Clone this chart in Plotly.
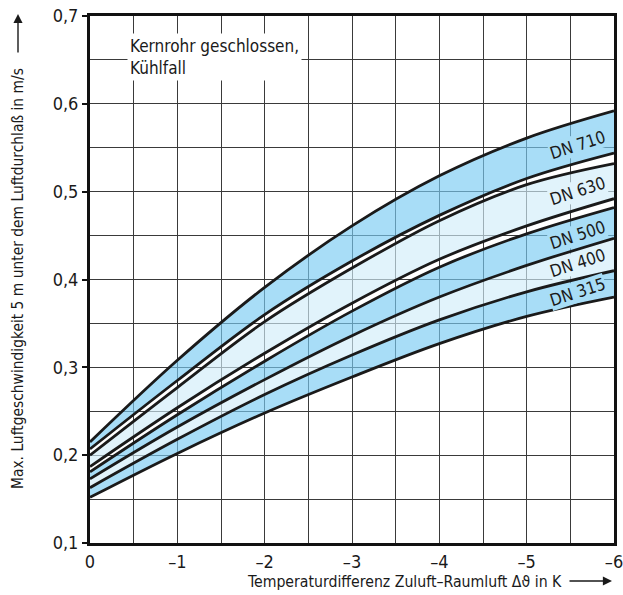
import plotly.graph_objects as go

# Temperature difference supply air - room air (K)
dt = [0, -1, -2, -3, -4, -5, -6]

# Boundary curves of the nominal-size bands (max. air velocity, m/s)
dn710_upper = [0.215, 0.308, 0.391, 0.461, 0.518, 0.561, 0.592]
dn710_lower = [0.207, 0.285, 0.360, 0.421, 0.473, 0.515, 0.544]
dn630_upper = [0.200, 0.277, 0.352, 0.413, 0.467, 0.508, 0.532]
dn630_lower = [0.187, 0.254, 0.316, 0.373, 0.423, 0.461, 0.492]
dn500_upper = [0.181, 0.246, 0.307, 0.364, 0.414, 0.452, 0.482]
dn500_lower = [0.173, 0.232, 0.286, 0.336, 0.380, 0.416, 0.447]
dn400_lower = [0.163, 0.218, 0.269, 0.314, 0.354, 0.386, 0.410]
dn315_lower = [0.152, 0.202, 0.248, 0.289, 0.327, 0.358, 0.380]

label_names = ["DN 710", "DN 630", "DN 500", "DN 400", "DN 315"]
label_x = -5.58
label_y = [0.553, 0.501, 0.451, 0.419, 0.386]

x_ticks = [0, -1, -2, -3, -4, -5, -6]
x_ticktext = ["0", "\u20131", "\u20132", "\u20133", "\u20134", "\u20135", "\u20136"]

FONT = "DejaVu Sans Condensed, Liberation Sans, sans-serif"
BLUE = "rgba(122,203,242,0.65)"
LIGHT = "rgba(209,237,249,0.65)"
BLUE_SOLID = "#a8ddf6"
LIGHT_SOLID = "#e1f3fb"

bands = [
    (dn710_lower, dn710_upper, BLUE),
    (dn630_lower, dn630_upper, LIGHT),
    (dn500_lower, dn500_upper, BLUE),
    (dn400_lower, dn500_lower, LIGHT),
    (dn315_lower, dn400_lower, BLUE),
]

fig = go.Figure()

for lower, upper, color in bands:
    fig.add_trace(go.Scatter(x=dt, y=lower, mode="lines",
                             line=dict(width=0, shape="spline"),
                             hoverinfo="skip", showlegend=False))
    fig.add_trace(go.Scatter(x=dt, y=upper, mode="lines", fill="tonexty",
                             fillcolor=color, line=dict(width=0, shape="spline"),
                             hoverinfo="skip", showlegend=False))

for curve in [dn710_upper, dn710_lower, dn630_upper, dn630_lower,
              dn500_upper, dn500_lower, dn400_lower, dn315_lower]:
    fig.add_trace(go.Scatter(x=dt, y=curve, mode="lines",
                             line=dict(color="#1a1a1a", width=2.8, shape="spline"),
                             showlegend=False))

L, R, T, B = 90, 9, 16, 52
W, H = 623, 595
pw, ph = W - L - R, H - T - B


def px(x):
    return (x - L) / pw


def py(y):
    return (H - B - y) / ph


annotations = [
    dict(text="Kernrohr geschlossen,<br>Kühlfall", xref="paper", yref="paper",
         x=px(127), y=py(33), xanchor="left", yanchor="top", align="left",
         showarrow=False, bgcolor="white", borderpad=2,
         font=dict(family=FONT, size=17, color="#1a1a1a")),
    dict(text="Max. Luftgeschwindigkeit 5 m unter dem Luftdurchlaß in m/s",
         xref="paper", yref="paper", x=px(18), y=py(279), textangle=-90,
         xanchor="center", yanchor="middle", showarrow=False,
         font=dict(family=FONT, size=15.4, color="#1a1a1a")),
    dict(text="", xref="paper", yref="paper", x=px(18), y=py(14),
         ax=0, ay=40, showarrow=True, arrowhead=2, arrowsize=1.3,
         arrowwidth=1.4, arrowcolor="#1a1a1a", standoff=0),
    dict(text="Temperaturdifferenz Zuluft\u2013Raumluft \u0394\u03d1 in K",
         xref="paper", yref="paper", x=px(564), y=py(581),
         xanchor="right", yanchor="middle", showarrow=False,
         font=dict(family=FONT, size=15.7, color="#1a1a1a")),
    dict(text="", xref="paper", yref="paper", x=px(612), y=py(581),
         ax=-44, ay=0, showarrow=True, arrowhead=2, arrowsize=1.3,
         arrowwidth=1.4, arrowcolor="#1a1a1a", standoff=0),
]

label_bg = [BLUE_SOLID, LIGHT_SOLID, BLUE_SOLID, LIGHT_SOLID, BLUE_SOLID]
for name, yv, bg in zip(label_names, label_y, label_bg):
    annotations.append(dict(text=name, x=label_x, y=yv, xref="x", yref="y",
                            showarrow=False, textangle=-18, bgcolor=bg,
                            borderpad=0,
                            font=dict(family=FONT, size=17, color="#1a1a1a")))

fig.update_layout(
    width=W, height=H,
    margin=dict(l=L, r=R, t=T, b=B, autoexpand=False),
    paper_bgcolor="white", plot_bgcolor="white",
    separators=", ",
    font=dict(family=FONT, size=18, color="#1a1a1a"),
    annotations=annotations,
    xaxis=dict(range=[0, -6], tickmode="array", tickvals=x_ticks,
               ticktext=x_ticktext, showgrid=True, gridcolor="#3a3a3a",
               gridwidth=1, zeroline=False, showline=True, linecolor="#111",
               linewidth=3, mirror=True, ticks="", ticklabelstandoff=0,
               ticklabeloverflow="allow", automargin=False,
               minor=dict(dtick=0.5, showgrid=True, gridcolor="#3a3a3a",
                          gridwidth=1, ticks="")),
    yaxis=dict(range=[0.1, 0.7], tickmode="linear", tick0=0.1, dtick=0.1,
               tickformat=".1f", showgrid=True, gridcolor="#3a3a3a",
               gridwidth=1, zeroline=False, showline=True, linecolor="#111",
               linewidth=3, mirror=True, ticks="outside", ticklen=5,
               tickwidth=2, tickcolor="#111", automargin=False,
               ticklabeloverflow="allow",
               minor=dict(dtick=0.05, showgrid=True, gridcolor="#3a3a3a",
                          gridwidth=1, ticks="")),
)

fig.write_html("out.html")
